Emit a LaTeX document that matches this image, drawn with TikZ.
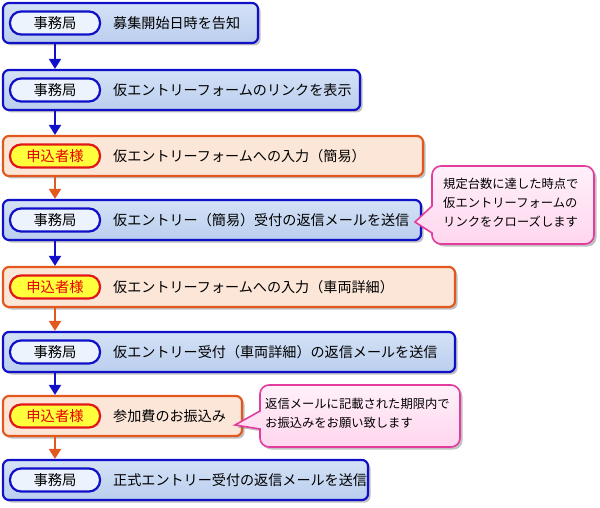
\documentclass[tikz,border=0pt]{standalone}
\usepackage{fontspec}
\newfontfamily\jp{Noto Sans CJK JP}
\usetikzlibrary{arrows.meta,shadows}
\definecolor{bborder}{RGB}{16,16,200}
\definecolor{bfilltop}{RGB}{212,226,246}
\definecolor{bfillbot}{RGB}{186,206,238}
\definecolor{bpill}{RGB}{236,243,252}
\definecolor{oborder}{RGB}{226,88,30}
\definecolor{ofill}{RGB}{252,230,216}
\definecolor{rborder}{RGB}{226,24,24}
\definecolor{ypill}{RGB}{255,255,60}
\definecolor{rtext}{RGB}{230,0,0}
\definecolor{cborder}{RGB}{226,60,156}
\definecolor{cfilltop}{RGB}{255,240,250}
\definecolor{cfillbot}{RGB}{255,214,238}
\tikzset{
  x=1pt, y=-1pt,
  boxbase/.style={rounded corners=6pt, line width=2.2pt, minimum height=40pt, inner sep=0pt,
    drop shadow={shadow xshift=2.5pt, shadow yshift=-2.5pt, opacity=0.35, fill=black!70}},
  bluebox/.style={boxbase, draw=bborder, top color=bfilltop, bottom color=bfillbot},
  orangebox/.style={boxbase, draw=oborder, fill=ofill},
  pillbase/.style={rounded corners=11pt, line width=2.2pt, minimum width=90pt, minimum height=23pt, inner sep=0pt, font=\jp\fontsize{14.3}{16}\selectfont},
  bluepill/.style={pillbase, draw=bborder, fill=bpill, text=black},
  redpill/.style={pillbase, draw=rborder, fill=ypill, text=rtext},
  steptext/.style={anchor=west, inner sep=0pt, font=\jp\fontsize{14.1}{16}\selectfont},
  barrow/.style={draw=bborder, line width=2pt, -{Triangle[width=12pt,length=10pt]}, fill=bborder},
  oarrow/.style={draw=oborder, line width=2pt, -{Triangle[width=12pt,length=10pt]}, fill=oborder},
  callout/.style={draw=cborder, line width=1.6pt, top color=cfilltop, bottom color=cfillbot,
    drop shadow={shadow xshift=2.5pt, shadow yshift=-2.5pt, opacity=0.35, fill=black!70}},
  calltext/.style={anchor=north west, inner sep=0pt, align=left, font=\jp\fontsize{12.3}{19}\selectfont},
}
\begin{document}
\begin{tikzpicture}
\useasboundingbox (0,0) rectangle (600,508);
% boxes
\node[bluebox, minimum width=255pt] (b1) at (130.5,23) {};
\node[bluebox, minimum width=357pt] (b2) at (181.5,90) {};
\node[orangebox, minimum width=420pt] (b3) at (213,156) {};
\node[bluebox, minimum width=418pt] (b4) at (212,220) {};
\node[orangebox, minimum width=452pt] (b5) at (229,287) {};
\node[bluebox, minimum width=452pt] (b6) at (229,352) {};
\node[orangebox, minimum width=239pt] (b7) at (122.5,416) {};
\node[bluebox, minimum width=365pt] (b8) at (185.5,480) {};
% pills
\node[bluepill] (p1) at (55,23) {事務局};
\node[bluepill] (p2) at (55,90) {事務局};
\node[redpill] (p3) at (55,156) {申込者様};
\node[bluepill] (p4) at (55,220) {事務局};
\node[redpill] (p5) at (55,287) {申込者様};
\node[bluepill] (p6) at (55,352) {事務局};
\node[redpill] (p7) at (55,416) {申込者様};
\node[bluepill] (p8) at (55,480) {事務局};
% texts
\node[steptext] (t1) at (113,23) {募集開始日時を告知};
\node[steptext] (t2) at (113,90) {仮エントリーフォームのリンクを表示};
\node[steptext] (t3) at (113,156) {仮エントリーフォームへの入力（簡易）};
\node[steptext] (t4) at (113,220) {仮エントリー（簡易）受付の返信メールを送信};
\node[steptext] (t5) at (113,287) {仮エントリーフォームへの入力（車両詳細）};
\node[steptext] (t6) at (113,352) {仮エントリー受付（車両詳細）の返信メールを送信};
\node[steptext] (t7) at (113,416) {参加費のお振込み};
\node[steptext] (t8) at (113,480) {正式エントリー受付の返信メールを送信};
% arrows
\draw[barrow] (b1.south -| p1) -- (b2.north -| p2);
\draw[barrow] (b2.south -| p2) -- (b3.north -| p3);
\draw[oarrow] (b3.south -| p3) -- (b4.north -| p4);
\draw[barrow] (b4.south -| p4) -- (b5.north -| p5);
\draw[oarrow] (b5.south -| p5) -- (b6.north -| p6);
\draw[barrow] (b6.south -| p6) -- (b7.north -| p7);
\draw[oarrow] (b7.south -| p7) -- (b8.north -| p8);
% callout 1
\coordinate (c1tip) at (415,222);
\path[callout] (c1tip) -- (432,206) [rounded corners=9pt] -- (432,166) -- (594,166) -- (594,244) -- (432,244) [sharp corners] -- (432,233) -- cycle;
\node[calltext] (k1) at (443,178) {規定台数に達した時点で\\仮エントリーフォームの\\リンクをクローズします};
% callout 2
\coordinate (c2tip) at (235,425);
\path[callout] (c2tip) -- (260,411) [rounded corners=9pt] -- (260,385) -- (460,385) -- (460,447) -- (260,447) [sharp corners] -- (260,429) -- cycle;
\node[calltext] (k2) at (265,398) {返信メールに記載された期限内で\\お振込みをお願い致します};
\end{tikzpicture}
\end{document}
